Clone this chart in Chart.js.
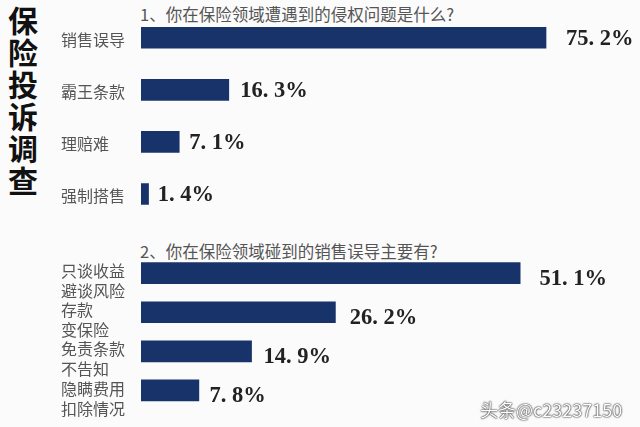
<!DOCTYPE html>
<html><head><meta charset="utf-8">
<script src="https://cdn.jsdelivr.net/npm/chart.js@4/dist/chart.umd.min.js"></script>
<style>
html,body{margin:0;padding:0;width:640px;height:427px;overflow:hidden;background:#fbfbfb;}
#title{position:absolute;left:7px;top:3px;width:32px;font-family:"Noto Sans CJK SC";font-weight:700;font-size:30px;line-height:32px;color:#111;text-align:center;}
.q{position:absolute;left:140px;font-family:"Noto Sans CJK SC";font-size:16.5px;color:#555;white-space:nowrap;line-height:1;}
#w1{position:absolute;left:0;top:0;}
#w2{position:absolute;left:0;top:230px;}
#wm{position:absolute;left:480px;top:396px;font-family:"Noto Sans CJK SC";font-size:18px;color:#fff;text-shadow:0 0 2px #111,0 0 1px #111;white-space:nowrap;}
</style></head>
<body>
<div id="title">保<br>险<br>投<br>诉<br>调<br>查</div>
<div class="q" id="q1" style="top:6px">1、你在保险领域遭遇到的侵权问题是什么?</div>
<div class="q" id="q2" style="top:243px">2、你在保险领域碰到的销售误导主要有?</div>
<canvas id="w1" width="640" height="230"></canvas>
<canvas id="w2" width="640" height="200"></canvas>
<div id="wm">头条@c23237150</div>
<script>
const q1Categories = ['销售误导', '霸王条款', '理赔难', '强制搭售'];
const q1Values = [75.2, 16.3, 7.1, 1.4];
const q2Categories = [['只谈收益', '避谈风险'], ['存款', '变保险'], ['免责条款', '不告知'], ['隐瞒费用', '扣除情况']];
const q2Values = [51.1, 26.2, 14.9, 7.8];

const valueLabels = {
  id: 'valueLabels',
  afterDatasetsDraw(chart, args, opts) {
    const ctx = chart.ctx;
    const meta = chart.getDatasetMeta(0);
    ctx.save();
    ctx.font = 'bold 22.5px "Liberation Serif"';
    ctx.fillStyle = '#222';
    ctx.textBaseline = 'middle';
    ctx.textAlign = 'left';
    meta.data.forEach((bar, i) => {
      const v = chart.data.datasets[0].data[i];
      const w = bar.x - bar.base;
      const txt = v.toFixed(1).replace('.', '. ') + '%';
      ctx.fillText(txt, bar.x + 9 + w * 0.027, bar.y + opts.dy);
    });
    ctx.restore();
  }
};

function makeChart(id, labels, values, max, padTop, padBottom, labelOffset, dy) {
  return new Chart(document.getElementById(id), {
    type: 'bar',
    data: { labels: labels, datasets: [{ data: values, backgroundColor: '#18336a', barThickness: 21, borderWidth: 0 }] },
    options: {
      indexAxis: 'y', responsive: false, animation: false, maintainAspectRatio: false,
      layout: { padding: { left: 61, right: 0, top: padTop, bottom: padBottom } },
      plugins: { legend: { display: false }, tooltip: { enabled: false }, valueLabels: { dy: dy } },
      scales: {
        x: { display: false, min: 0, max: max },
        y: {
          grid: { display: false }, border: { display: false },
          ticks: { crossAlign: 'far', color: '#555', font: { family: '"Noto Sans CJK SC"', size: 16, lineHeight: 1.25 }, padding: 0, labelOffset: labelOffset },
          afterFit(s) { s.width = 80; }
        }
      }
    },
    plugins: [valueLabels]
  });
}

makeChart('w1', q1Categories, q1Values, 92.65, 11.75, 4.25, 2, 1);
makeChart('w2', q2Categories, q2Values, 67.25, 23.6, 1.1, 8, 6);
</script>
</body></html>
